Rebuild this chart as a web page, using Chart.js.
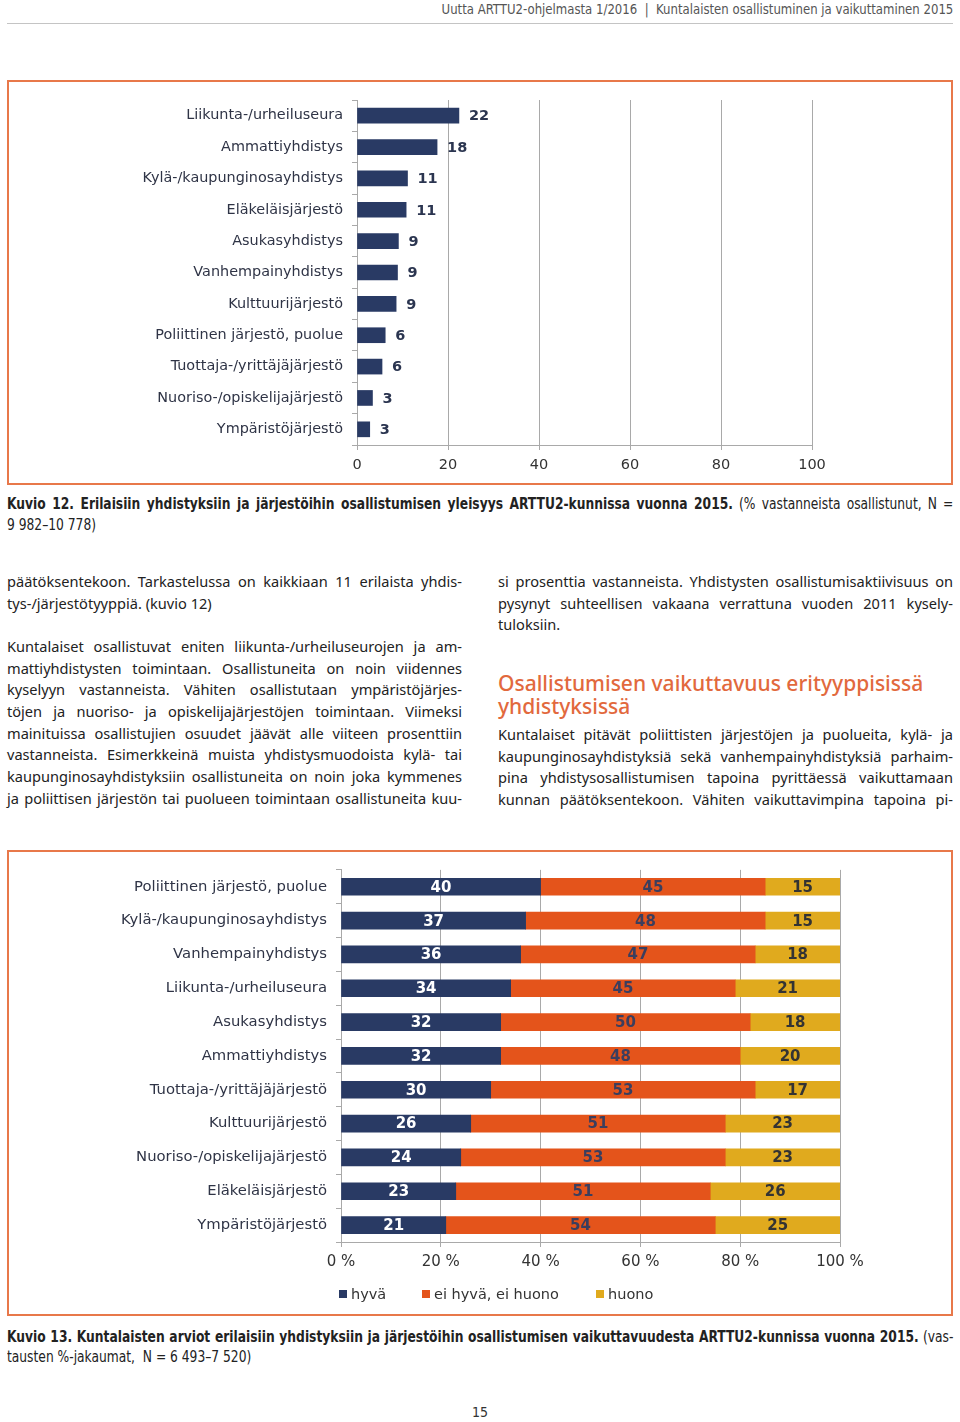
<!DOCTYPE html>
<html>
  <head>
    <title>Kuvio 12 ja 13</title>
    <script src="https://cdn.jsdelivr.net/npm/chart.js"></script>
    <style>
      body {
        margin: 0;
        background: #ffffff;
        font-family: "Noto Sans", sans-serif;
        color: #222;
      }
      .page {
        position: relative;
        width: 960px;
        height: 1422px;
        overflow: hidden;
      }
      .abs {
        position: absolute;
      }
      .narrow {
        font-family: "Liberation Sans Narrow", "DejaVu Sans Condensed", sans-serif;
      }
      .header {
        right: 7px;
        top: 1px;
        font-size: 13.5px;
        color: #555;
        white-space: nowrap;
        transform: scaleX(0.965);
        transform-origin: right top;
      }
      .rule {
        left: 7px;
        top: 23px;
        width: 946px;
        height: 1px;
        background: #c4c4c4;
      }
      .frame {
        left: 7px;
        width: 942px;
        border: 2px solid #e8784a;
      }
      .caption {
        left: 7px;
        width: 1040px;
        font-size: 15px;
        line-height: 21px;
        color: #222;
        transform: scaleX(0.91);
        transform-origin: left top;
      }
      .caption .j {
        text-align: justify;
        text-align-last: justify;
        white-space: nowrap;
      }
      .col {
        width: 455px;
        font-size: 14.6px;
        line-height: 21.65px;
        color: #222;
      }
      .col div {
        white-space: nowrap;
      }
      .col .j {
        text-align: justify;
        text-align-last: justify;
      }
      .heading {
        font-size: 21px;
        line-height: 23px;
        color: #e2693d;
        font-weight: 500;
      }
      .legend {
        top: 1285px;
        font-family: "DejaVu Sans", Verdana, sans-serif;
        font-size: 14.5px;
        line-height: 18px;
        color: #333;
        white-space: nowrap;
      }
      .legend span {
        display: inline-block;
        width: 8px;
        height: 8px;
        margin-right: 4px;
        vertical-align: 1px;
      }
      canvas {
        position: absolute;
      }
    </style>
  </head>
  <body>
    <div class="page">
      <div class="abs header narrow">Uutta ARTTU2-ohjelmasta 1/2016&nbsp; |&nbsp; Kuntalaisten osallistuminen ja vaikuttaminen 2015</div>
      <div class="abs rule"></div>

      <div class="abs frame" style="top: 80px; height: 401px"></div>
      <canvas id="chart12" width="942" height="401" style="left: 9px; top: 82px"></canvas>

      <div class="abs caption narrow" style="top: 494px">
        <div class="j"><b>Kuvio 12. Erilaisiin yhdistyksiin ja järjestöihin osallistumisen yleisyys ARTTU2-kunnissa vuonna 2015.</b> (% vastanneista osallistunut, N =</div>
        <div>9 982–10 778)</div>
      </div>

      <div class="abs col" style="left: 7px; top: 571px">
        <div class="j">päätöksentekoon. Tarkastelussa on kaikkiaan 11 erilaista yhdis-</div>
        <div>tys-/järjestötyyppiä. (kuvio 12)</div>
        <div>&nbsp;</div>
        <div class="j">Kuntalaiset osallistuvat eniten liikunta-/urheiluseurojen ja am-</div>
        <div class="j">mattiyhdistysten toimintaan. Osallistuneita on noin viidennes</div>
        <div class="j">kyselyyn vastanneista. Vähiten osallistutaan ympäristöjärjes-</div>
        <div class="j">töjen ja nuoriso- ja opiskelijajärjestöjen toimintaan. Viimeksi</div>
        <div class="j">mainituissa osallistujien osuudet jäävät alle viiteen prosenttiin</div>
        <div class="j">vastanneista. Esimerkkeinä muista yhdistysmuodoista kylä- tai</div>
        <div class="j">kaupunginosayhdistyksiin osallistuneita on noin joka kymmenes</div>
        <div class="j">ja poliittisen järjestön tai puolueen toimintaan osallistuneita kuu-</div>
      </div>

      <div class="abs col" style="left: 498px; top: 571px">
        <div class="j">si prosenttia vastanneista. Yhdistysten osallistumisaktiivisuus on</div>
        <div class="j">pysynyt suhteellisen vakaana verrattuna vuoden 2011 kysely-</div>
        <div>tuloksiin.</div>
      </div>
      <div class="abs heading" style="left: 498px; top: 672px">
        <div>Osallistumisen vaikuttavuus erityyppisissä</div>
        <div>yhdistyksissä</div>
      </div>
      <div class="abs col" style="left: 498px; top: 724px">
        <div class="j">Kuntalaiset pitävät poliittisten järjestöjen ja puolueita, kylä- ja</div>
        <div class="j">kaupunginosayhdistyksiä sekä vanhempainyhdistyksiä parhaim-</div>
        <div class="j">pina yhdistysosallistumisen tapoina pyrittäessä vaikuttamaan</div>
        <div class="j">kunnan päätöksentekoon. Vähiten vaikuttavimpina tapoina pi-</div>
      </div>

      <div class="abs frame" style="top: 850px; height: 462px"></div>
      <canvas id="chart13" width="942" height="462" style="left: 9px; top: 852px"></canvas>
      <div id="legend13"></div>

      <div class="abs caption narrow" style="top: 1327px; line-height: 20px">
        <div class="j"><b>Kuvio 13. Kuntalaisten arviot erilaisiin yhdistyksiin ja järjestöihin osallistumisen vaikuttavuudesta ARTTU2-kunnissa vuonna 2015.</b> (vas-</div>
        <div>tausten %-jakaumat,&nbsp; N = 6 493–7 520)</div>
      </div>

      <div class="abs narrow" style="left: 0; width: 960px; top: 1404px; text-align: center; font-size: 14px; color: #333">15</div>
    </div>

    <script>
      // Kuvio 12: osallistuminen (% vastanneista)
      const orgLabels = [
        "Liikunta-/urheiluseura",
        "Ammattiyhdistys",
        "Kylä-/kaupunginosayhdistys",
        "Eläkeläisjärjestö",
        "Asukasyhdistys",
        "Vanhempainyhdistys",
        "Kulttuurijärjestö",
        "Poliittinen järjestö, puolue",
        "Tuottaja-/yrittäjäjärjestö",
        "Nuoriso-/opiskelijajärjestö",
        "Ympäristöjärjestö",
      ];
      const orgValues = [22.4, 17.6, 11.1, 10.8, 9.1, 8.9, 8.6, 6.2, 5.5, 3.4, 2.8];
      const orgTicks = [0, 20, 40, 60, 80, 100];

      // Kuvio 13: vaikuttavuus (%-jakaumat)
      const effLabels = [
        "Poliittinen järjestö, puolue",
        "Kylä-/kaupunginosayhdistys",
        "Vanhempainyhdistys",
        "Liikunta-/urheiluseura",
        "Asukasyhdistys",
        "Ammattiyhdistys",
        "Tuottaja-/yrittäjäjärjestö",
        "Kulttuurijärjestö",
        "Nuoriso-/opiskelijajärjestö",
        "Eläkeläisjärjestö",
        "Ympäristöjärjestö",
      ];
      const effSeries = ["hyvä", "ei hyvä, ei huono", "huono"];
      const effGood = [40, 37, 36, 34, 32, 32, 30, 26, 24, 23, 21];
      const effNeutral = [45, 48, 47, 45, 50, 48, 53, 51, 53, 51, 54];
      const effBad = [15, 15, 18, 21, 18, 20, 17, 23, 23, 26, 25];
      const effTicks = [0, 20, 40, 60, 80, 100];

      const navy = "#293a64";
      const orange = "#e4541b";
      const gold = "#e0aa1e";
      const effColors = [navy, orange, gold];
      const gridGrey = "#a9a9a9";
      const fontFamily = "'DejaVu Sans', Verdana, sans-serif";

      // draws the value numbers next to / inside the bars
      const barLabels = {
        id: "barLabels",
        afterDatasetsDraw(chart, args, opts) {
          const ctx = chart.ctx;
          const right = chart.chartArea.right;
          ctx.save();
          ctx.font = "bold " + opts.size + "px " + fontFamily;
          ctx.textBaseline = "middle";
          chart.data.datasets.forEach((ds, i) => {
            const meta = chart.getDatasetMeta(i);
            meta.data.forEach((bar, j) => {
              const v = Math.round(ds.data[j]);
              if (opts.inside) {
                const end = Math.min(bar.x, right);
                ctx.textAlign = "center";
                ctx.fillStyle = opts.colors[i];
                ctx.fillText(v, (bar.base + end) / 2, bar.y + 1);
              } else {
                ctx.textAlign = "left";
                ctx.fillStyle = opts.color;
                ctx.fillText(v, bar.x + 10, bar.y + 1);
              }
            });
          });
          ctx.restore();
        },
      };

      Chart.defaults.font.family = fontFamily;
      Chart.defaults.color = "#333";

      new Chart(document.getElementById("chart12"), {
        type: "bar",
        data: {
          labels: orgLabels,
          datasets: [
            {
              data: orgValues,
              backgroundColor: navy,
              barThickness: 15,
            },
          ],
        },
        options: {
          indexAxis: "y",
          responsive: false,
          animation: false,
          layout: { padding: { left: 0, right: 139, top: 18, bottom: 0 } },
          plugins: {
            legend: { display: false },
            tooltip: { enabled: false },
            barLabels: { color: "#2b3550", size: 14.5 },
          },
          scales: {
            x: {
              min: 0,
              max: 100,
              afterBuildTicks: (s) => {
                s.ticks = orgTicks.map((v) => ({ value: v }));
              },
              afterFit: (s) => {
                s.height = 38;
              },
              grid: { color: gridGrey, tickLength: 5, tickColor: gridGrey },
              border: { color: gridGrey },
              ticks: { font: { size: 14.5 }, color: "#333", padding: 7 },
            },
            y: {
              afterFit: (s) => {
                s.width = 348;
              },
              grid: {
                drawOnChartArea: false,
                offset: true,
                tickLength: 5,
                color: gridGrey,
              },
              border: { color: gridGrey },
              ticks: { font: { size: 14.4 }, color: "#2f3446", padding: 9 },
            },
          },
        },
        plugins: [barLabels],
      });

      new Chart(document.getElementById("chart13"), {
        type: "bar",
        data: {
          labels: effLabels,
          datasets: [
            { label: effSeries[0], data: effGood, backgroundColor: effColors[0], barThickness: 17 },
            { label: effSeries[1], data: effNeutral, backgroundColor: effColors[1], barThickness: 17 },
            { label: effSeries[2], data: effBad, backgroundColor: effColors[2], barThickness: 17 },
          ],
        },
        options: {
          indexAxis: "y",
          responsive: false,
          animation: false,
          layout: { padding: { left: 30, right: 111, top: 15, bottom: 42 } },
          plugins: {
            legend: { display: false },
            tooltip: { enabled: false },
            barLabels: { inside: true, size: 15, colors: ["#ffffff", "#3b3e5e", "#333333"] },
          },
          scales: {
            x: {
              stacked: true,
              min: 0,
              max: 100,
              afterBuildTicks: (s) => {
                s.ticks = effTicks.map((v) => ({ value: v }));
              },
              afterFit: (s) => {
                s.height = 30;
              },
              grid: { color: gridGrey, tickLength: 5, tickColor: gridGrey },
              border: { color: gridGrey },
              ticks: {
                font: { size: 15 },
                color: "#333",
                padding: 6,
                callback: (v) => v + " %",
              },
            },
            y: {
              stacked: true,
              afterFit: (s) => {
                s.width = 302;
              },
              grid: {
                drawOnChartArea: false,
                offset: true,
                tickLength: 5,
                color: gridGrey,
              },
              border: { color: gridGrey },
              ticks: { font: { size: 14.8 }, color: "#2f3446", padding: 9 },
            },
          },
        },
        plugins: [barLabels],
      });

      // legend for kuvio 13
      const legendX = [339, 422, 596];
      const legendBox = document.getElementById("legend13");
      effSeries.forEach((name, i) => {
        const item = document.createElement("div");
        item.className = "abs legend";
        item.style.left = legendX[i] + "px";
        item.innerHTML = '<span style="background:' + effColors[i] + '"></span>' + name;
        legendBox.appendChild(item);
      });
    </script>
  </body>
</html>
